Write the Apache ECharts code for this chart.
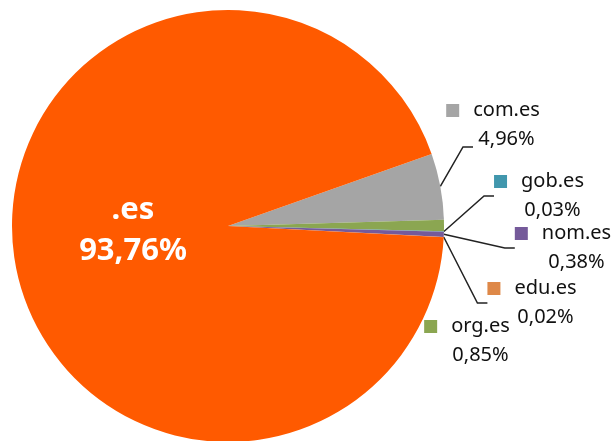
<!DOCTYPE html>
<html>
<head>
	<meta charset="utf-8">
	<title>Dominios .es</title>
	<script src="https://cdn.jsdelivr.net/npm/echarts@6/dist/echarts.min.js"></script>
	<style>
		html, body { margin: 0; padding: 0; background: #fff; }
		#main { width: 614px; height: 441px; }
	</style>
</head>
<body>
<div id="main"></div>
<script>
	// datos (orden en sentido horario desde el borde superior de com.es)
	var nombres = ['com.es', 'org.es', 'gob.es', 'nom.es', 'edu.es', '.es'];
	var valores = [4.96, 0.85, 0.03, 0.38, 0.02, 93.76];
	var textos = ['4,96%', '0,85%', '0,03%', '0,38%', '0,02%', '93,76%'];
	var colores = ['#a5a5a5', '#8ba651', '#4197ad', '#755a9a', '#de8848', '#ff5a00'];
	// centro de cada etiqueta
	var posEtiquetas = [[493, 125], [467, 341], [539, 196], [563, 248], [532, 303], [133, 231]];

	var chart = echarts.init(document.getElementById('main'));

	var datos = nombres.map(function (n, i) {
		var d = {name: n, value: valores[i], itemStyle: {color: colores[i]}};
		if (n == '.es') {
			d.label = {
				formatter: '{g|.es}\n{g|' + textos[i] + '}',
				rich: {g: {color: '#fff', fontSize: 31, fontWeight: 'bold', lineHeight: 41, fontFamily: 'Noto Sans'}}
			};
			d.labelLine = {show: false};
		} else if (n == 'org.es') {
			d.labelLine = {show: false};
		}
		return d;
	});

	var rich = {
		n: {fontSize: 20, color: '#111', fontFamily: 'Noto Sans', lineHeight: 29},
		v: {fontSize: 20, color: '#111', fontFamily: 'Noto Sans', lineHeight: 29},
		gap: {width: 14, height: 13},
		sp: {width: 27, height: 13}
	};
	colores.forEach(function (c, i) {
		rich['sq' + i] = {width: 13, height: 13, backgroundColor: c};
	});

	chart.setOption({
		animation: false,
		series: [{
			type: 'pie',
			center: [228, 226],
			radius: 216,
			startAngle: 19.5,
			clockwise: true,
			avoidLabelOverlap: false,
			itemStyle: {borderWidth: 0},
			emphasis: {disabled: true},
			label: {
				show: true,
				position: 'outside',
				align: 'center',
				formatter: function (p) {
					var i = p.dataIndex;
					return '{sq' + i + '|}{gap|}{n|' + p.name + '}\n{sp|}{v|' + textos[i] + '}';
				},
				rich: rich
			},
			labelLine: {
				show: true,
				length: 20,
				length2: 10,
				lineStyle: {color: '#222', width: 1.5}
			},
			labelLayout: function (params) {
				var p = posEtiquetas[params.dataIndex];
				var res = {x: p[0], y: p[1], align: 'center', verticalAlign: 'middle'};
				// com.es: la linea llega por debajo, junto al porcentaje
				if (params.dataIndex == 0 && params.labelLinePoints) {
					res.labelLinePoints = [
						params.labelLinePoints[0],
						[p[0] - 30, p[1] + 22],
						[p[0] - 20, p[1] + 22]
					];
				}
				return res;
			},
			data: datos
		}]
	});
</script>
</body>
</html>
